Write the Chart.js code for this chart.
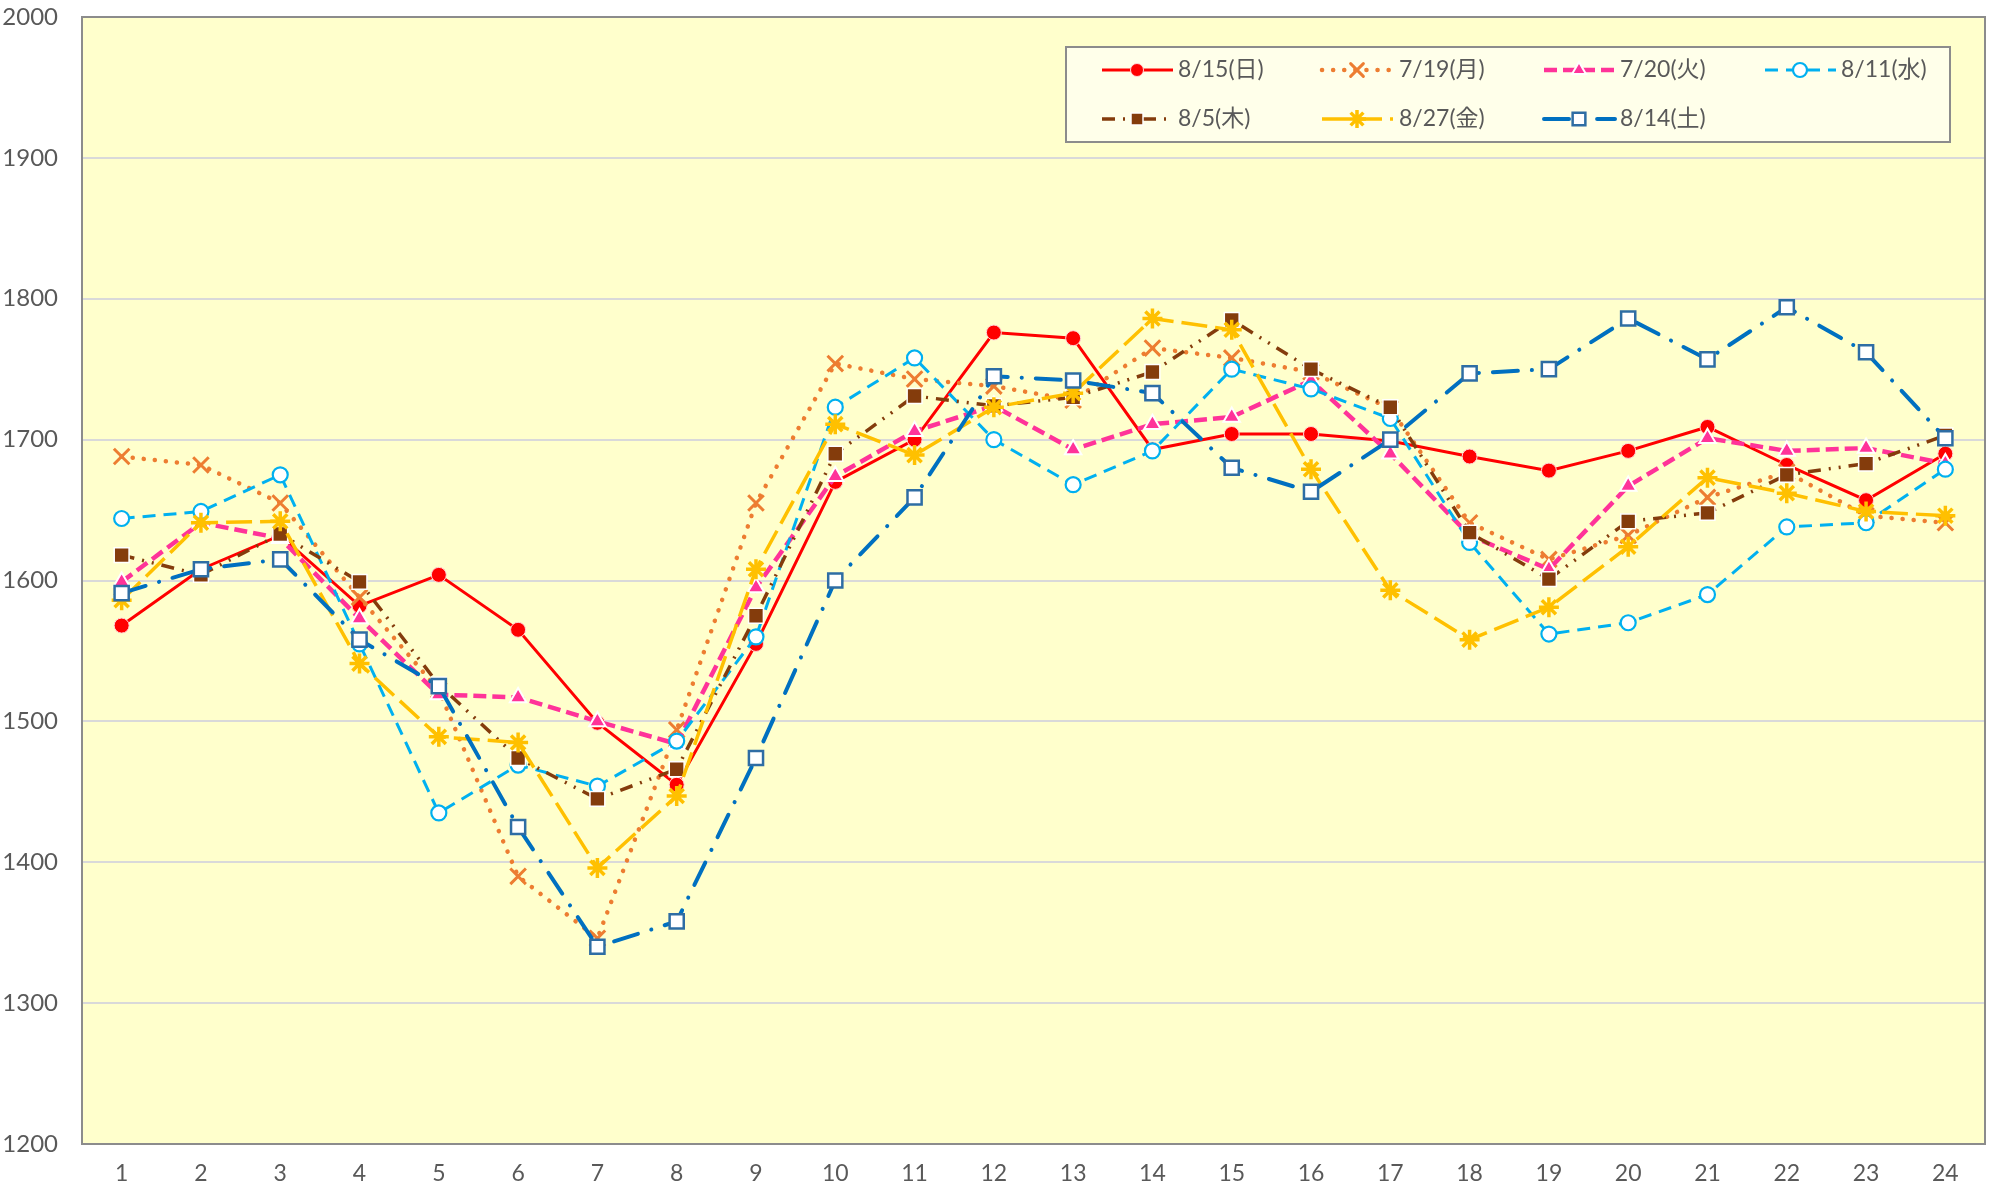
<!DOCTYPE html>
<html>
<head>
<meta charset="utf-8">
<script src="https://cdn.jsdelivr.net/npm/chart.js@4.4.1/dist/chart.umd.min.js"></script>
<style>
  html, body { margin: 0; padding: 0; background: #ffffff; }
  #wrap { width: 1999px; height: 1189px; }
</style>
</head>
<body>
<div id="wrap"><canvas id="myChart" width="1999" height="1189"></canvas></div>
<script>
const hours = ["1","2","3","4","5","6","7","8","9","10","11","12","13","14","15","16","17","18","19","20","21","22","23","24"];

const seriesNames = ["8/15(日)", "7/19(月)", "7/20(火)", "8/11(水)", "8/5(木)", "8/27(金)", "8/14(土)"];

const aug15 = [1568,1608,1632,1582,1604,1565,1499,1455,1555,1670,1700,1776,1772,1693,1704,1704,1699,1688,1678,1692,1709,1682,1657,1690];
const jul19 = [1688,1682,1655,1588,1522,1390,1346,1494,1655,1754,1743,1738,1728,1765,1758,1748,1722,1641,1615,1632,1659,1677,1646,1641];
const jul20 = [1599,1641,1630,1573,1519,1517,1500,1484,1595,1674,1706,1724,1693,1711,1716,1742,1690,1632,1608,1667,1701,1692,1694,1683];
const aug11 = [1644,1649,1675,1555,1435,1469,1454,1486,1560,1723,1758,1700,1668,1692,1750,1736,1715,1627,1562,1570,1590,1638,1641,1679];
const aug5  = [1618,1604,1633,1599,1526,1474,1445,1466,1575,1690,1731,1724,1730,1748,1785,1750,1723,1634,1601,1642,1648,1675,1683,1703];
const aug27 = [1586,1641,1642,1541,1489,1485,1396,1447,1608,1711,1689,1723,1733,1786,1778,1679,1593,1558,1581,1624,1673,1662,1649,1646];
const aug14 = [1591,1608,1615,1558,1525,1425,1340,1358,1474,1600,1659,1745,1742,1733,1680,1663,1700,1747,1750,1786,1757,1794,1762,1701];

const yTicks = [1200,1300,1400,1500,1600,1700,1800,1900,2000];

const textColor = "#595959";
const fontFamily = "Lato, 'Noto Sans CJK JP', sans-serif";

const styles = [
  { color: "#FF0000", dash: [], width: 3, cap: "butt", point: "circle", bg: "#FF0000", pb: "#FFD9D9", pw: 1, r: 7.5, lr: 6.5 },
  { color: "#ED7D31", dash: [0.1, 11], width: 4.5, cap: "round", point: "crossRot", bg: "#ED7D31", pb: "#ED7D31", pw: 3, r: 11, lr: 9 },
  { color: "#FF3399", dash: [13, 6], width: 4.5, cap: "butt", point: "triangle", bg: "#FF3399", pb: "#FFFFFF", pw: 2, r: 9.5, lr: 8 },
  { color: "#00B0F0", dash: [13, 8], width: 3, cap: "butt", point: "circle", bg: "#FFFFFF", pb: "#00B0F0", pw: 2.2, r: 7.5, lr: 7 },
  { color: "#843C0C", dash: [13, 8, 2, 8, 2, 8], width: 3.5, cap: "butt", point: "rect", bg: "#843C0C", pb: "#FFFFFF", pw: 1.5, r: 10.5, lr: 8.5 },
  { color: "#FFC000", dash: [26, 8], width: 3.5, cap: "butt", point: "star", bg: "#FFC000", pb: "#FFC000", pw: 3.5, r: 10, lr: 9 },
  { color: "#0070C0", dash: [25, 14, 0.1, 14], width: 4, cap: "round", point: "rect", bg: "#FFFFFF", pb: "#2E6DA4", pw: 2.5, r: 10, lr: 9 }
];

const seriesData = [aug15, jul19, jul20, aug11, aug5, aug27, aug14];

const datasets = seriesData.map((vals, i) => ({
  label: seriesNames[i],
  data: vals,
  borderColor: styles[i].color,
  borderWidth: styles[i].width,
  borderDash: styles[i].dash,
  borderCapStyle: styles[i].cap,
  pointStyle: styles[i].point,
  pointBackgroundColor: styles[i].bg,
  pointBorderColor: styles[i].pb,
  pointBorderWidth: styles[i].pw,
  pointRadius: styles[i].r,
  pointHoverRadius: styles[i].r,
  fill: false,
  tension: 0,
  order: seriesData.length - i
}));

// plot area fill and border
const plotArea = {
  id: "plotArea",
  beforeDraw(chart) {
    const { ctx, chartArea: a } = chart;
    ctx.save();
    ctx.fillStyle = "#FFFFCC";
    ctx.fillRect(a.left, a.top, a.right - a.left, a.bottom - a.top);
    ctx.restore();
  },
  afterDatasetsDraw(chart) {
    const { ctx, chartArea: a } = chart;
    ctx.save();
    ctx.strokeStyle = "#8C8C8C";
    ctx.lineWidth = 2;
    ctx.strokeRect(a.left, a.top, a.right - a.left, a.bottom - a.top);
    ctx.restore();
  }
};

// legend box drawn inside the plot, top right
const boxLegend = {
  id: "boxLegend",
  afterDraw(chart) {
    const ctx = chart.ctx;
    const box = { x: 1066, y: 47, w: 884, h: 95 };
    const lineX = [1102, 1322, 1544, 1765];
    const textX = [1178, 1399, 1620, 1841];
    const rowY = [70, 119];
    ctx.save();
    ctx.fillStyle = "#FFFFEA";
    ctx.fillRect(box.x, box.y, box.w, box.h);
    ctx.strokeStyle = "#8C8C8C";
    ctx.lineWidth = 2;
    ctx.strokeRect(box.x, box.y, box.w, box.h);
    chart.data.datasets.forEach((ds, i) => {
      const col = i % 4, row = Math.floor(i / 4);
      const x0 = lineX[col], y = rowY[row];
      ctx.save();
      ctx.strokeStyle = ds.borderColor;
      ctx.lineWidth = ds.borderWidth;
      ctx.setLineDash(ds.borderDash);
      ctx.lineCap = ds.borderCapStyle;
      ctx.beginPath();
      ctx.moveTo(x0, y);
      ctx.lineTo(x0 + 71, y);
      ctx.stroke();
      ctx.setLineDash([]);
      ctx.fillStyle = ds.pointBackgroundColor;
      ctx.strokeStyle = ds.pointBorderColor;
      ctx.lineWidth = ds.pointBorderWidth;
      if (Chart.helpers && Chart.helpers.drawPoint) {
        Chart.helpers.drawPoint(ctx, {
          pointStyle: ds.pointStyle,
          rotation: 0,
          radius: styles[i].lr,
          borderWidth: ds.pointBorderWidth
        }, x0 + 35, y);
      }
      ctx.restore();
      ctx.fillStyle = textColor;
      ctx.font = "23px " + fontFamily;
      ctx.textBaseline = "middle";
      ctx.textAlign = "left";
      ctx.fillText(ds.label, textX[col], y);
    });
    ctx.restore();
  }
};

const ctx = document.getElementById("myChart").getContext("2d");
new Chart(ctx, {
  type: "line",
  data: { labels: hours, datasets: datasets },
  options: {
    responsive: false,
    animation: false,
    layout: { padding: { top: 17, right: 13, bottom: 0, left: 0 } },
    plugins: {
      legend: { display: false },
      tooltip: { enabled: false }
    },
    scales: {
      x: {
        offset: true,
        grid: { display: false, drawTicks: false },
        border: { display: false },
        ticks: {
          color: textColor,
          font: { family: fontFamily, size: 23 },
          padding: 16,
          maxRotation: 0,
          autoSkip: false
        },
        afterFit(scale) { scale.height = 45; }
      },
      y: {
        min: 1200,
        max: 2000,
        afterBuildTicks(scale) { scale.ticks = yTicks.map(v => ({ value: v })); },
        grid: { color: "#D9D9D9", lineWidth: 2, drawTicks: false },
        border: { display: false },
        ticks: {
          color: textColor,
          font: { family: fontFamily, size: 24 },
          padding: 24,
          callback: (v) => String(v)
        },
        afterFit(scale) {
          scale.width = 82;
          scale.paddingTop = 0;
          scale.paddingBottom = 0;
        }
      }
    }
  },
  plugins: [plotArea, boxLegend]
});
</script>
</body>
</html>
